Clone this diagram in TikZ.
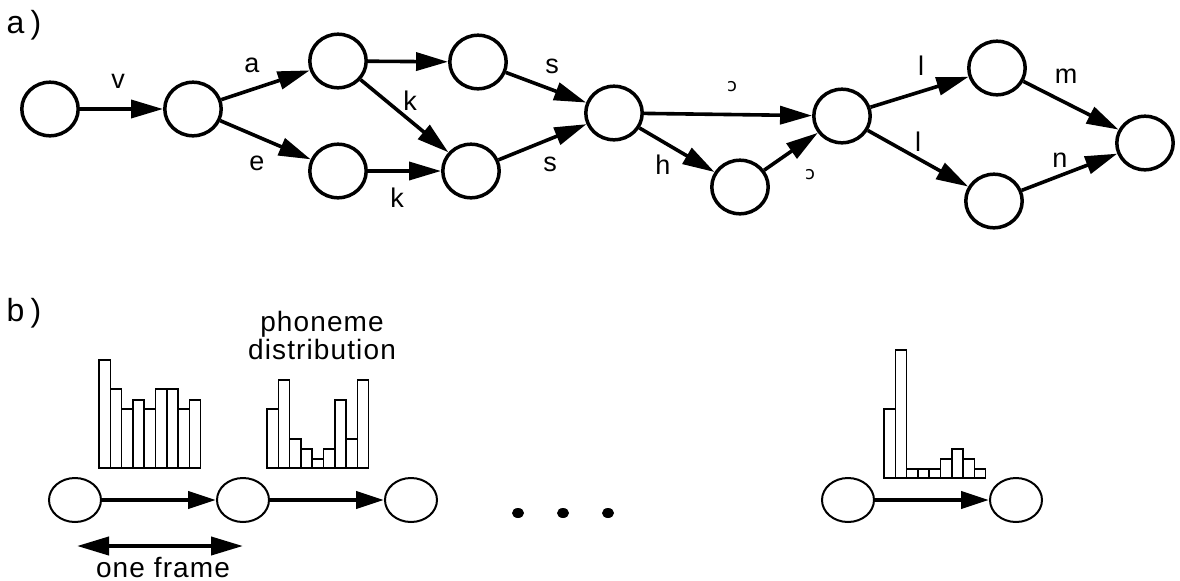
\documentclass[tikz,border=0pt]{standalone}
\usepackage{fontspec}
\setmainfont{Liberation Sans}
\newfontfamily\ipafont{DejaVu Sans}
\usetikzlibrary{arrows.meta,shapes.geometric}

\begin{document}
\begin{tikzpicture}[x=0.5pt,y=-0.5pt,
        state/.style={ellipse, draw, line width=1.75pt, inner sep=0pt, minimum width=28.2pt, minimum height=26.8pt},
        frm/.style={ellipse, draw, line width=1pt, inner sep=0pt, minimum width=26pt, minimum height=22pt},
        arc/.style={line width=1.8pt, -{Triangle[length=16pt,width=9pt]}},
        frarc/.style={line width=2pt, -{Triangle[length=14pt,width=8.5pt]}},
        span/.style={line width=2pt, {Triangle[length=16pt,width=9pt]}-{Triangle[length=16pt,width=9pt]}},
        lbl/.style={inner sep=0pt, font=\fontsize{13.5}{13.5}\selectfont},
        part/.style={inner sep=0pt, font=\fontsize{16}{16}\selectfont\addfontfeatures{LetterSpace=20}},
        sym/.style={inner sep=0pt, font=\fontsize{9}{9}\ipafont},
        txt/.style={inner sep=0pt, font=\fontsize{14}{14}\selectfont\addfontfeatures{LetterSpace=4}},
        bar/.style={line width=0.75pt},
        dot/.style={ellipse, fill, inner sep=0pt, minimum width=6pt, minimum height=5pt}]
        \useasboundingbox (0,0) rectangle (1180,580);

        % a) word lattice
        \node[part] (ta) at (24,25) {a)};
        \node[state] (n1) at (50,109) {};
        \node[state] (n2) at (193,109) {};
        \node[state] (n3) at (338,61) {};
        \node[state] (n4) at (338,171) {};
        \node[state] (n5) at (478,62) {};
        \node[state] (n6) at (471,171) {};
        \node[state] (n7) at (614,113) {};
        \node[state] (n8) at (740,187) {};
        \node[state] (n9) at (842,116) {};
        \node[state] (n10) at (997,68) {};
        \node[state] (n11) at (994,201) {};
        \node[state] (n12) at (1145,143) {};

        \draw[arc] (n1) -- (n2);
        \draw[arc] (n2) -- (n3);
        \draw[arc] (n2) -- (n4);
        \draw[arc] (n3) -- (n5);
        \draw[arc] (n3) -- (n6);
        \draw[arc] (n4) -- (n6);
        \draw[arc] (n5) -- (n7);
        \draw[arc] (n6) -- (n7);
        \draw[arc] (n7) -- (n9);
        \draw[arc] (n7) -- (n8);
        \draw[arc] (n8) -- (n9);
        \draw[arc] (n9) -- (n10);
        \draw[arc] (n9) -- (n11);
        \draw[arc] (n10) -- (n12);
        \draw[arc] (n11) -- (n12);

        \node[lbl] (lv) at (118,81) {v};
        \node[lbl] (la) at (252,65) {a};
        \node[lbl] (le) at (257,163) {e};
        \node[lbl] (lk1) at (410,101) {k};
        \node[lbl] (lk2) at (397,198) {k};
        \node[lbl] (ls1) at (552,66) {s};
        \node[lbl] (ls2) at (550,164) {s};
        \node[sym] (lo1) at (732,87) {ɔ};
        \node[lbl] (lh) at (663,165) {h};
        \node[sym] (lo2) at (810,175) {ɔ};
        \node[lbl] (ll1) at (921,66) {l};
        \node[lbl] (ll2) at (918,142) {l};
        \node[lbl] (lm) at (1066,76) {m};
        \node[lbl] (ln) at (1060,160) {n};

        % b) frames with their distributions
        \node[part] (tb) at (24,313) {b)};
        \node[frm] (f1) at (75,500) {};
        \node[frm] (f2) at (243,500) {};
        \node[frm] (f3) at (411,500) {};
        \node[frm] (f4) at (848,500) {};
        \node[frm] (f5) at (1016,500) {};
        \draw[frarc] (f1) -- (f2);
        \draw[frarc] (f2) -- (f3);
        \draw[frarc] (f4) -- (f5);

        \foreach \x [count=\i] in {518,563,608} \node[dot] (d\i) at (\x,513) {};

        \foreach \h [count=\i from 0] in {108,79,59,68,59,79,79,59,68}
                \draw[bar] ({99+11.3*\i},468) rectangle ++(11.3,-\h);
        \foreach \h [count=\i from 0] in {59,88,29,19,9,19,68,29,88}
                \draw[bar] ({267+11.3*\i},468) rectangle ++(11.3,-\h);
        \foreach \h [count=\i from 0] in {69,128,9,9,9,19,29,19,9}
                \draw[bar] ({884+11.3*\i},478) rectangle ++(11.3,-\h);

        \node[txt, align=center] (phd) at (322,335) {phoneme\\distribution};

        \coordinate (ofl) at (77,546);
        \coordinate (ofr) at (243,546);
        \draw[span] (ofl) -- (ofr);
        \node[txt, anchor=base] (of) at (163,577) {one frame};
        \end{tikzpicture}
\end{document}
